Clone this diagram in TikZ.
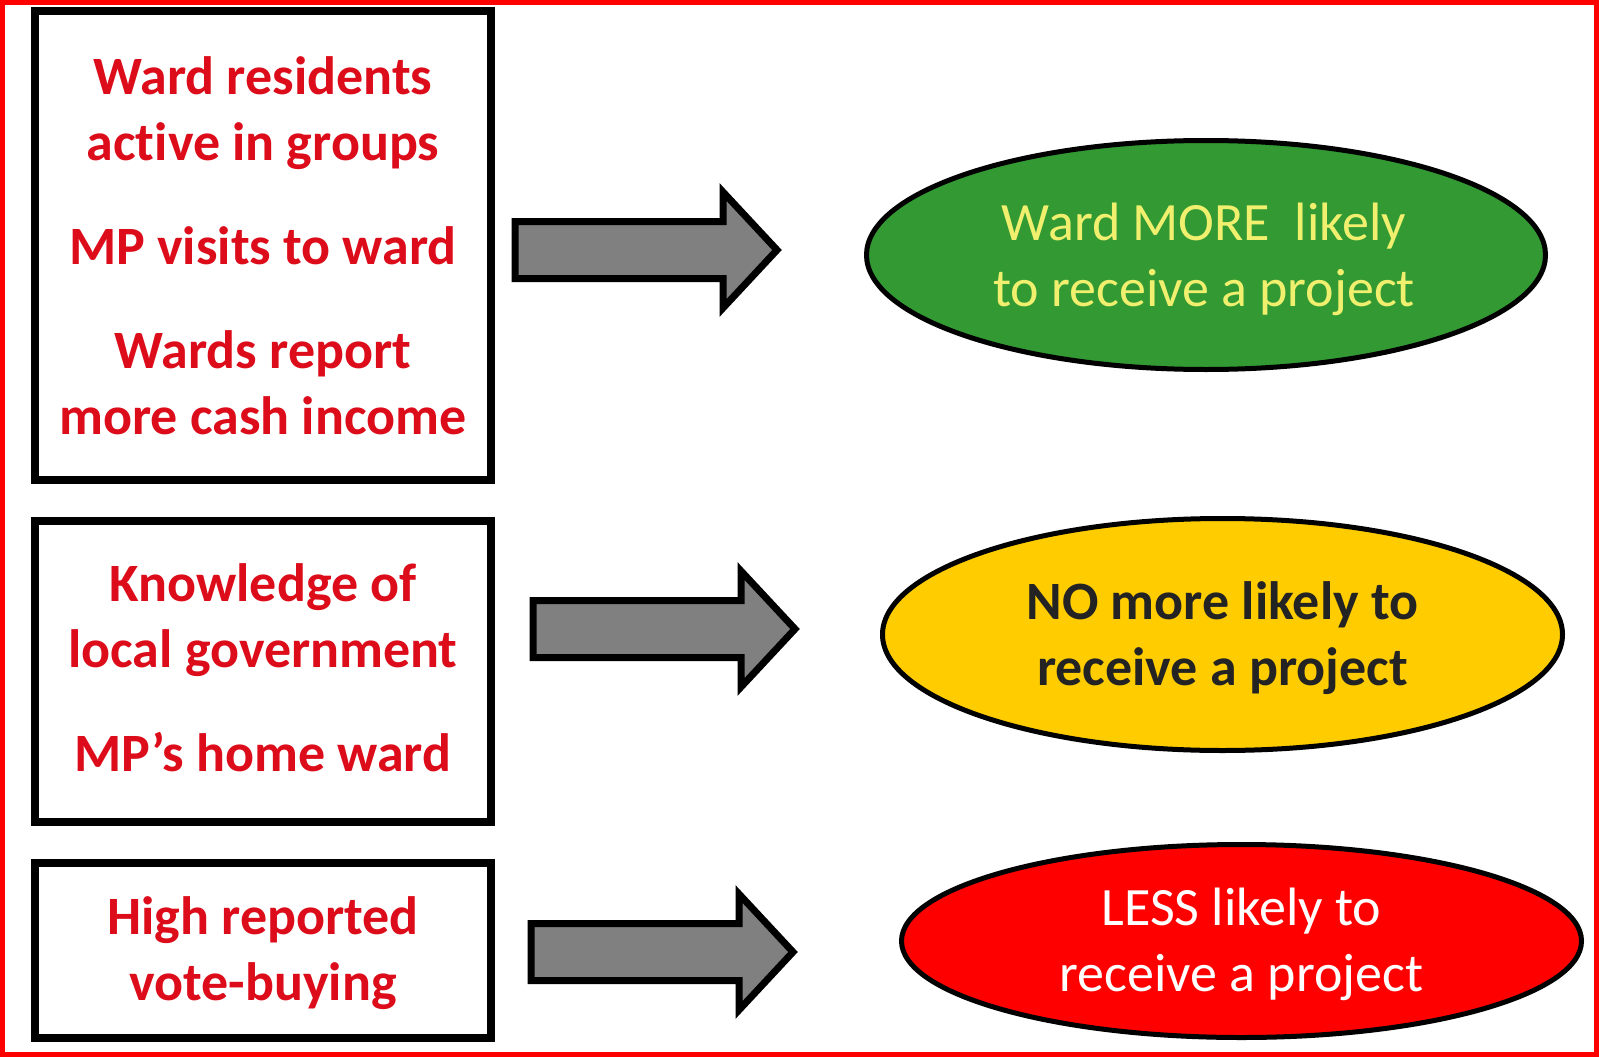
\documentclass[tikz,border=0pt]{standalone}
\usepackage{fontspec}
\setmainfont{Carlito}[Ligatures=NoCommon]
\usetikzlibrary{shapes.geometric}

\definecolor{causered}{RGB}{220,12,26}
\definecolor{framered}{RGB}{255,0,0}
\definecolor{moregreen}{RGB}{51,153,51}
\definecolor{moretext}{RGB}{240,240,110}
\definecolor{sameyellow}{RGB}{255,204,0}
\definecolor{sametext}{RGB}{35,35,35}
\definecolor{lessred}{RGB}{255,0,0}
\definecolor{arrowgray}{RGB}{128,128,128}

\tikzset{
  causebox/.style={draw=black, line width=8pt, fill=white, inner sep=0pt},
  causetext/.style={align=center, inner sep=0pt, text=causered,
    font=\bfseries\fontsize{54}{66}\selectfont},
  outcome/.style={ellipse, draw=black, line width=5pt, inner sep=0pt},
  outcometext/.style={align=center, inner sep=0pt, font=\fontsize{54}{66}\selectfont},
  arrowbody/.style={draw=black, fill=arrowgray, line width=7pt, line join=miter},
  blockarrow/.pic={
    \draw[arrowbody] (0,-28.5) -- (208,-28.5) -- (208,-58) -- (262,0)
      -- (208,58) -- (208,28.5) -- (0,28.5) -- cycle;
  }
}

\begin{document}
\begin{tikzpicture}[x=1pt,y=-1pt]
  % page and red frame
  \useasboundingbox (0,0) rectangle (1599,1057);
  \fill[white] (0,0) rectangle (1599,1057);
  \draw[framered, line width=5pt] (2.5,2.5) rectangle (1596.5,1054.5);

  % factor boxes
  \node[causebox, minimum width=456pt, minimum height=469pt] (b1) at (263,245.5) {};
  \node[causebox, minimum width=456pt, minimum height=301pt] (b2) at (263,671.5) {};
  \node[causebox, minimum width=456pt, minimum height=175pt] (b3) at (263,950.5) {};

  \node[causetext] (b1t) at (b1.center)
    {Ward residents\\active in groups\\[38pt]MP visits to ward\\[38pt]Wards report\\more cash income};
  \node[causetext] (b2t) at ([yshift=4pt]b2.center)
    {Knowledge of\\local government\\[38pt]MP’s home ward};
  \node[causetext] (b3t) at ([yshift=-3pt]b3.center)
    {High reported\\vote-buying};

  % outcomes
  \node[outcome, fill=moregreen, minimum width=679pt, minimum height=229pt] (o1) at (1206,255) {};
  \node[outcome, fill=sameyellow, minimum width=680pt, minimum height=232pt] (o2) at (1222.5,634.5) {};
  \node[outcome, fill=lessred, minimum width=680pt, minimum height=193pt] (o3) at (1241.5,941) {};

  \node[outcometext, text=moretext] (o1t) at ([xshift=-2pt,yshift=-4pt]o1.center)
    {Ward MORE\ \ likely\\to receive a project};
  \node[outcometext, text=sametext, font=\bfseries\fontsize{54}{66}\selectfont] (o2t)
    at ([yshift=-4pt]o2.center) {NO more likely to\\receive a project};
  \node[outcometext, text=white] (o3t) at ([yshift=-3pt]o3.center)
    {LESS likely to\\receive a project};

  % block arrows between factors and outcomes
  \pic at (515,250) {blockarrow};
  \pic at (533,629) {blockarrow};
  \pic at (531,952) {blockarrow};
\end{tikzpicture}
\end{document}
